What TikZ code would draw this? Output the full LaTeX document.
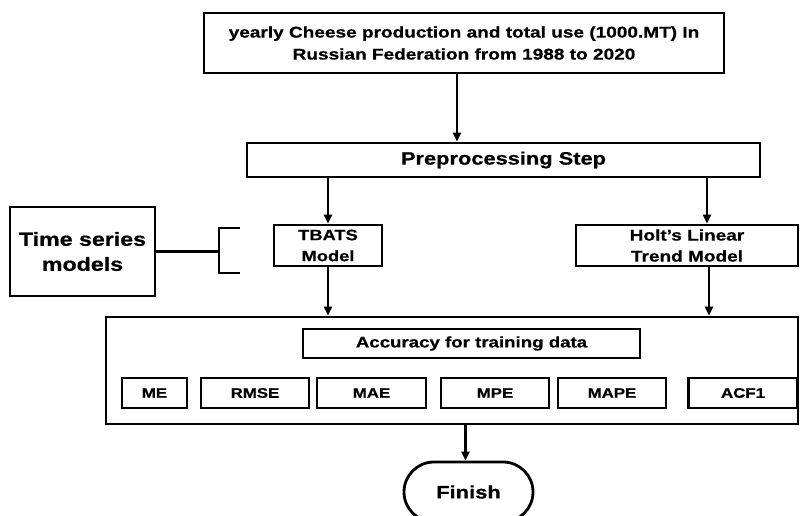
\documentclass[tikz,border=0pt]{standalone}
\usepackage{fontspec}
\setmainfont{Liberation Sans}[FakeStretch=1.22,BoldFeatures={FakeBold=0.6}]
\usetikzlibrary{arrows.meta,shapes.misc}
\begin{document}
\begin{tikzpicture}[x=1pt,y=-1pt,
  box/.style={draw,line width=2.8pt,inner sep=0pt,align=center,font=\bfseries},
  arr/.style={line width=2.2pt,-{Triangle[length=9pt,width=8pt]}},
  ln/.style={line width=2.6pt}]
\useasboundingbox (0,0) rectangle (801,516);
\node[box,minimum width=520,minimum height=60,font=\bfseries\fontsize{15.6}{22}\selectfont] (top) at (464,43)
  {yearly Cheese production and total use (1000.MT) In\\Russian Federation from 1988 to 2020};
\node[box,minimum width=513,minimum height=34,font=\bfseries\fontsize{17.9}{20}\selectfont] (prep) at (503.5,160) {Preprocessing Step};
\node[box,minimum width=108,minimum height=41,font=\bfseries\fontsize{15}{21}\selectfont] (tbats) at (328,245.5) {TBATS\\Model};
\node[box,minimum width=222,minimum height=41,font=\bfseries\fontsize{15.6}{21}\selectfont] (holt) at (687,245.5) {Holt{\char"27}s Linear\\Trend Model};
\node[box,minimum width=145,minimum height=89,font=\bfseries\fontsize{19}{25}\selectfont] (ts) at (82.5,251.5) {Time series\\models};
\node[box,minimum width=692,minimum height=107] (big) at (452,370.5) {};
\node[box,minimum width=337,minimum height=29,font=\bfseries\fontsize{15.3}{16}\selectfont] (acc) at (471.5,343.5) {Accuracy for training data};
\tikzset{mbox/.style={box,minimum height=30,font=\bfseries\fontsize{13.8}{16}\selectfont}}
\node[mbox,minimum width=65] (me) at (154.5,393) {ME};
\node[mbox,minimum width=108] (rmse) at (255,393) {RMSE};
\node[mbox,minimum width=109] (mae) at (371.5,393) {MAE};
\node[mbox,minimum width=108] (mpe) at (495,393) {MPE};
\node[mbox,minimum width=108] (mape) at (612,393) {MAPE};
\node[mbox,minimum width=109] (acf) at (743,393) {ACF1};
\node[box,rounded rectangle,minimum width=129,minimum height=60,font=\bfseries\fontsize{18}{20}\selectfont] (fin) at (468.5,492) {Finish};
% connectors
\coordinate (topout) at ([xshift=-7pt]top.south);
\coordinate (holtin) at ([xshift=20pt]holt.north);
\coordinate (holtout) at ([xshift=22pt]holt.south);
\draw[arr] (topout) -- (topout |- prep.north);
\draw[arr] (prep.south -| tbats.north) -- (tbats.north);
\draw[arr] (prep.south -| holtin) -- (holtin);
\draw[arr] (tbats.south) -- (tbats.south |- big.north);
\draw[arr] (holtout) -- (holtout |- big.north);
\draw[arr] ([xshift=-3pt]big.south -| fin.north) -- ([xshift=-3pt]fin.north);
% bracket
\coordinate (bt) at (240,228);
\coordinate (bb) at (240,273);
\coordinate (bm) at (219,251.5);
\draw[ln] (ts.east) -- (bm);
\draw[ln] (bt) -- (bt -| bm) -- (bb -| bm) -- (bb);
\end{tikzpicture}
\end{document}
